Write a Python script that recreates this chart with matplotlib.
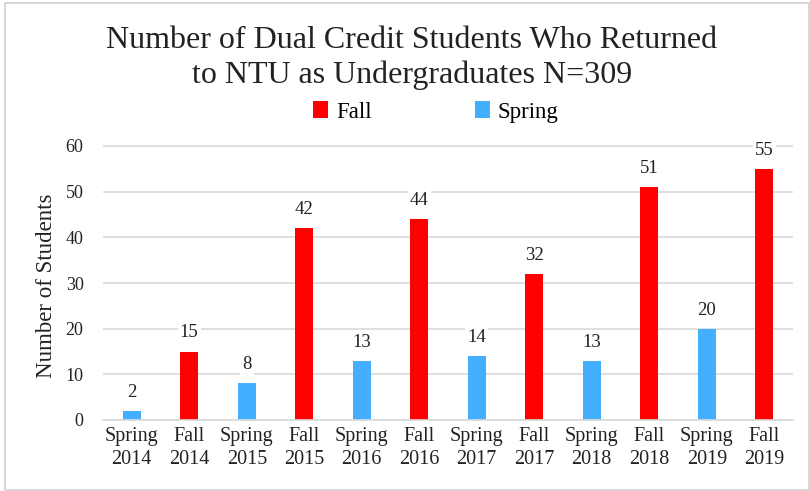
import matplotlib
matplotlib.use("Agg")
import matplotlib.pyplot as plt
from matplotlib.patches import Rectangle, Patch

categories = ["Spring\n2014", "Fall\n2014", "Spring\n2015", "Fall\n2015", "Spring\n2016", "Fall\n2016",
              "Spring\n2017", "Fall\n2017", "Spring\n2018", "Fall\n2018", "Spring\n2019", "Fall\n2019"]
values = [2, 15, 8, 42, 13, 44, 14, 32, 13, 51, 20, 55]
terms = ["Spring", "Fall", "Spring", "Fall", "Spring", "Fall", "Spring", "Fall", "Spring", "Fall", "Spring", "Fall"]
colors = {"Fall": "#ff0000", "Spring": "#44aeff"}

plt.rcParams['font.family'] = ['Liberation Serif', 'DejaVu Serif']

fig = plt.figure(figsize=(8.1, 4.91), dpi=100)
ax = fig.add_axes([103/810, 1 - 420/491, 690/810, (420-146)/491 * 66/60])

x = range(len(categories))
bars = ax.bar(x, values, width=0.31, color=[colors[t] for t in terms], zorder=2)
for xi, v in zip(x, values):
    ax.text(xi, v + 2.2, str(v), ha='center', va='bottom', fontsize=13.5, color='#222222', zorder=3,
            bbox=dict(facecolor='white', edgecolor='none', pad=1.5))

ax.set_xlim(-0.5, len(categories) - 0.5)
ax.set_ylim(0, 66)
ax.set_yticks([0, 10, 20, 30, 40, 50, 60])
ax.set_xticks(list(x))
ax.set_xticklabels(categories, fontsize=14.5, color='#222222', linespacing=1.3)
ax.tick_params(axis='y', labelsize=13, colors='#222222', length=0, pad=14)
ax.tick_params(axis='x', length=0, pad=5)
ax.yaxis.grid(True, color='#d9d9d9', linewidth=1.2, zorder=0)
ax.set_axisbelow(True)
for s in ['top', 'right', 'left']:
    ax.spines[s].set_visible(False)
ax.spines['bottom'].set_color('#d9d9d9')
ax.spines['bottom'].set_linewidth(1.2)
ax.set_ylabel("Number of Students", fontsize=16.5, color='#222222')
ax.yaxis.set_label_coords(-0.066, 0.445)

fig.text(412/810, 1 - 58/491, "Number of Dual Credit Students Who Returned\nto NTU as Undergraduates N=309",
         ha='center', va='center', fontsize=23, color='#222222', linespacing=1.2)

handles = [Patch(facecolor=colors["Fall"], label="Fall"), Patch(facecolor=colors["Spring"], label="Spring")]
fig.legend(handles=handles, loc='center', bbox_to_anchor=(436/810, 1 - 112/491), ncol=2, frameon=False,
           fontsize=16.5, handlelength=0.65, handleheight=0.7, handletextpad=0.35, columnspacing=4.5)

fig.patches.append(Rectangle((5/810, 0.003), 1 - 6/810, 1 - 0.01, transform=fig.transFigure,
                             fill=False, edgecolor='#d0d0d0', linewidth=1.2))

fig.savefig("out.png", dpi=100, facecolor='white')
